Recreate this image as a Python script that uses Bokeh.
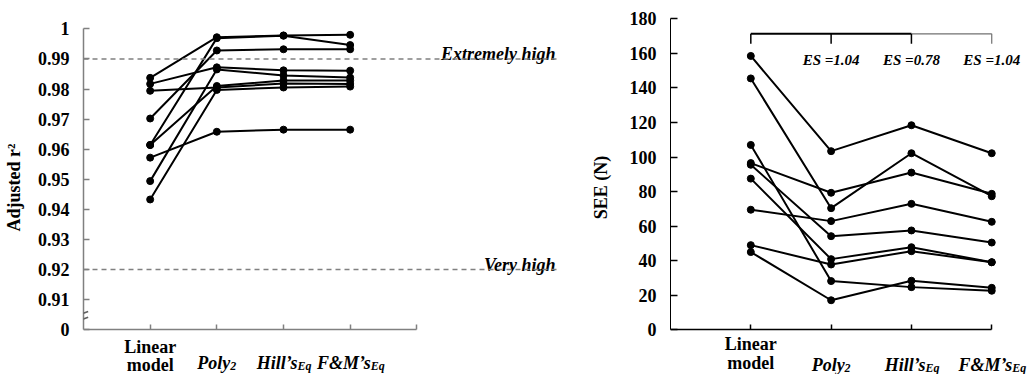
from bokeh.plotting import figure
from bokeh.layouts import row
from bokeh.models import Range1d, FixedTicker, CustomJSTickFormatter, Span, Arrow
from bokeh.core.properties import value
from bokeh.embed import file_html
from bokeh.resources import INLINE

# ---------------- data ----------------
categories = ["Linear\nmodel", "Poly", "Hill\u2019s", "F&M\u2019s"]
cat_subs = ["", "2", "Eq", "Eq"]
cat_pos = [1, 2, 3, 4]

# Adjusted r2 per subject (left panel)
r2_linear = [0.9837, 0.9614, 0.9702, 0.9817, 0.9494, 0.9614, 0.9794, 0.9433, 0.9572]
r2_poly2 = [0.9972, 0.9969, 0.9928, 0.9872, 0.9865, 0.9810, 0.9805, 0.9797, 0.9658]
r2_hill = [0.9978, 0.9977, 0.9932, 0.9862, 0.9845, 0.9828, 0.9818, 0.9805, 0.9665]
r2_fm = [0.9980, 0.9946, 0.9932, 0.9861, 0.9838, 0.9828, 0.9817, 0.9808, 0.9665]
r2_ticks = [0.90, 0.91, 0.92, 0.93, 0.94, 0.95, 0.96, 0.97, 0.98, 0.99, 1.00]
r2_thresholds = [0.99, 0.92]
r2_threshold_labels = ["Extremely high", "Very high"]
r2_title = "Adjusted r\u00b2"

# SEE (N) per subject (right panel)
see_linear = [158.5, 145.5, 107.0, 96.5, 95.5, 87.5, 69.5, 49.0, 45.0]
see_poly2 = [103.4, 70.4, 28.2, 79.3, 54.2, 40.9, 62.9, 37.8, 17.1]
see_hill = [118.4, 102.2, 24.7, 91.0, 57.5, 47.8, 72.9, 45.5, 28.4]
see_fm = [102.2, 77.3, 22.6, 78.7, 50.5, 39.1, 62.5, 39.1, 24.3]
see_ticks = [0, 20, 40, 60, 80, 100, 120, 140, 160, 180]
see_title = "SEE (N)"
es_labels = ["ES =1.04", "ES =0.78", "ES =1.04"]
es_pos = [2, 3, 4]
es_y = 156
bracket_y = 171.3
bracket_drop = 165.5

FONT = "Liberation Serif"
# Times bold-italic advance widths (1/1000 em) for centring label+subscript
W = {"P": 611, "o": 500, "l": 278, "y": 444, "H": 778, "i": 278, "\u2019": 333,
     "s": 389, "F": 667, "&": 778, "M": 889, "E": 667, "q": 500, "2": 500}


def tw(s, size):
    return sum(W.get(c, 500) for c in s) * size / 1000.0


def style_axes(p, color, xticks, title, standoff):
    for ax in (p.xaxis, p.yaxis):
        ax.axis_line_color = color
        ax.axis_line_width = 1.5
        ax.major_tick_line_color = color
        ax.major_tick_line_width = 1.5
        ax.minor_tick_line_color = None
        ax.major_tick_out = 0
    p.yaxis.major_tick_in = 6
    p.yaxis.major_label_text_font = FONT
    p.yaxis.major_label_text_font_style = "bold"
    p.yaxis.major_label_text_font_size = "18px"
    p.yaxis.major_label_text_color = "black"
    p.yaxis.major_label_standoff = 14
    p.yaxis.axis_label = title
    p.yaxis.axis_label_standoff = standoff
    p.yaxis.axis_label_text_font = FONT
    p.yaxis.axis_label_text_font_style = "bold"
    p.yaxis.axis_label_text_font_size = "18px"
    p.yaxis.axis_label_text_color = "black"
    # category ticks drawn as (label-less) minor ticks; labels are text glyphs
    p.xaxis.ticker = FixedTicker(ticks=[], minor_ticks=xticks)
    p.xaxis.minor_tick_line_color = color
    p.xaxis.minor_tick_line_width = 1.5
    p.xaxis.minor_tick_in = 5
    p.xaxis.minor_tick_out = 0
    p.xgrid.visible = False
    p.ygrid.visible = False
    p.outline_line_color = None
    p.background_fill_color = "white"
    p.border_fill_color = "white"


def cat_labels(p, y0, top_off, line_px, base_off):
    for i, line in enumerate(categories[0].split("\n")):
        p.text(x=[cat_pos[0]], y=[y0], text=[line], text_font=value(FONT),
               text_font_style="bold", text_font_size="18px", text_align="center",
               text_baseline="top", y_offset=top_off + i * line_px, text_color="black")
    for xc, m, s in zip(cat_pos[1:], categories[1:], cat_subs[1:]):
        k = (tw(m, 18) - tw(s, 12)) / 2.0
        p.text(x=[xc], y=[y0], text=[m], text_font=value(FONT), text_font_style="bold italic",
               text_font_size="18px", text_align="right", text_baseline="alphabetic",
               x_offset=k, y_offset=base_off, text_color="black")
        p.text(x=[xc], y=[y0], text=[s], text_font=value(FONT), text_font_style="bold italic",
               text_font_size="12px", text_align="left", text_baseline="alphabetic",
               x_offset=k, y_offset=base_off + 3.5, text_color="black")


# ---------------- left panel ----------------
p1 = figure(width=587, height=374, output_backend="svg", toolbar_location=None,
            x_range=Range1d(0, 7.11), y_range=Range1d(0.88516, 1.0094),
            min_border_left=83, min_border_right=30, min_border_top=0, min_border_bottom=0)
style_axes(p1, "#808080", [1, 2, 3, 4, 5], r2_title, 11)
p1.yaxis.ticker = FixedTicker(ticks=r2_ticks)
p1.yaxis.formatter = CustomJSTickFormatter(code="""
if (tick < 0.905) return "0";
if (tick > 0.995) return "1";
return tick.toFixed(2);
""")
p1.yaxis.bounds = (r2_ticks[0], r2_ticks[-1])
p1.xaxis.bounds = (0, 5)
p1.xaxis.fixed_location = r2_ticks[0]

for t in r2_thresholds:
    p1.add_layout(Span(location=t, dimension="width", line_color="#808080",
                       line_width=1.5, line_dash="5 4"))
p1.text(x=[7.08, 7.08], y=r2_thresholds, text=r2_threshold_labels, text_font=value(FONT),
        text_font_style="bold italic", text_font_size="18px", text_align="right",
        text_baseline="alphabetic", y_offset=-5, text_color="black")

xs1 = [cat_pos] * len(r2_linear)
ys1 = [list(v) for v in zip(r2_linear, r2_poly2, r2_hill, r2_fm)]
p1.multi_line(xs=xs1, ys=ys1, line_color="black", line_width=2)
for xc, vals in zip(cat_pos, (r2_linear, r2_poly2, r2_hill, r2_fm)):
    p1.scatter(x=[xc] * len(vals), y=vals, size=7, color="black")

# axis break marks
for ys, ye in ((0.90442, 0.90608), (0.90252, 0.90418)):
    p1.add_layout(Arrow(end=None, x_start=-0.14, y_start=ys, x_end=0.07, y_end=ye,
                        line_color="#606060", line_width=1.5))

cat_labels(p1, r2_ticks[0], 7, 18, 33)

# ---------------- right panel ----------------
p2 = figure(width=446, height=374, output_backend="svg", toolbar_location=None,
            x_range=Range1d(0, 4.52), y_range=Range1d(-25.87, 190.59),
            min_border_left=78, min_border_right=0, min_border_top=0, min_border_bottom=0)
style_axes(p2, "black", cat_pos, see_title, 16)
p2.yaxis.axis_line_width = 1
p2.yaxis.major_tick_in = 7
p2.yaxis.ticker = FixedTicker(ticks=see_ticks)
p2.yaxis.bounds = (see_ticks[0], see_ticks[-1])
p2.xaxis.bounds = (0, 4)
p2.xaxis.fixed_location = see_ticks[0]

xs2 = [cat_pos] * len(see_linear)
ys2 = [list(v) for v in zip(see_linear, see_poly2, see_hill, see_fm)]
p2.multi_line(xs=xs2, ys=ys2, line_color="black", line_width=2)
for xc, vals in zip(cat_pos, (see_linear, see_poly2, see_hill, see_fm)):
    p2.scatter(x=[xc] * len(vals), y=vals, size=7, color="black")

# significance bracket
p2.segment(x0=[cat_pos[0]], y0=[bracket_y], x1=[cat_pos[2]], y1=[bracket_y],
           line_color="black", line_width=2)
p2.segment(x0=[cat_pos[2]], y0=[bracket_y], x1=[cat_pos[3]], y1=[bracket_y],
           line_color="#707070", line_width=1.2)
p2.segment(x0=cat_pos[:3], y0=[bracket_y] * 3, x1=cat_pos[:3], y1=[bracket_drop] * 3,
           line_color="black", line_width=1.5)
p2.segment(x0=[cat_pos[3]], y0=[bracket_y], x1=[cat_pos[3]], y1=[bracket_drop],
           line_color="#707070", line_width=1.2)
p2.text(x=es_pos, y=[es_y] * len(es_pos), text=es_labels, text_font=value(FONT),
        text_font_style="bold italic", text_font_size="15px", text_align="center",
        text_baseline="alphabetic", text_color="black")

cat_labels(p2, see_ticks[0], 4, 19, 35)

layout = row(p1, p2)
open("out.html", "w").write(file_html(layout, INLINE))
